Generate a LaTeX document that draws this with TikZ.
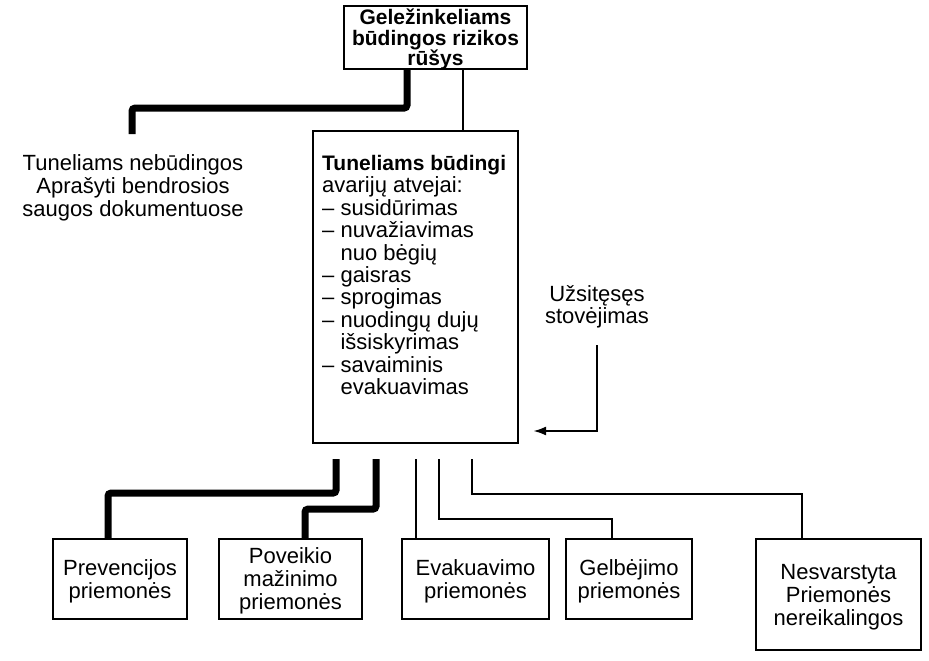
\documentclass[tikz,border=0pt]{standalone}
\usepackage{fontspec}
\setmainfont{Liberation Sans}
\usetikzlibrary{arrows.meta}
\tikzset{
  txt/.style={font=\fontsize{22}{23}\selectfont, align=center, inner sep=0pt},
  box/.style={txt, draw, line width=2.2pt, text depth=0pt},
  measure/.style={box, minimum height=80pt},
  heavy/.style={line width=7pt, rounded corners=3pt},
  light/.style={line width=2pt},
}
\begin{document}
\begin{tikzpicture}[x=1pt,y=-1pt,line join=miter]
  \useasboundingbox (0,0) rectangle (929,661);
  % risk kinds
  \node[box,font=\bfseries\fontsize{21}{20.5}\selectfont,minimum width=183pt,minimum height=63pt] (kinds) at (435.5,37.5) {Geležinkeliams\\būdingos rizikos\\rūšys};
  \node[txt] (notyp) at (133,188) {Tuneliams nebūdingos\\Aprašyti bendrosios\\saugos dokumentuose};
  \coordinate (notypend) at (132,134);
  \node[draw,line width=2.2pt,minimum width=205pt,minimum height=312pt] (cases) at (415.5,287) {};
  \node[txt,font=\fontsize{22}{22.4}\selectfont,align=left,anchor=north west] (caselist) at (322,155) {{\bfseries\fontsize{21}{22.4}\selectfont Tuneliams būdingi}\\
    avarijų atvejai:\\
    – susidūrimas\\
    – nuvažiavimas\\
    \phantom{– }nuo bėgių\\
    – gaisras\\
    – sprogimas\\
    – nuodingų dujų\\
    \phantom{– }išsiskyrimas\\
    – savaiminis\\
    \phantom{– }evakuavimas};
  \draw[heavy] ([xshift=-28.5pt]kinds.south) -- ++(0,38) -| (notypend);
  \draw[light] ([xshift=27.5pt]kinds.south) -- ([xshift=47.5pt]cases.north);
  % long stop
  \node[txt,font=\fontsize{22}{22}\selectfont] (stall) at (597,307) {Užsitęsęs\\stovėjimas};
  \coordinate (stalltip) at (533,431);
  \draw[line width=2.4pt,-{Latex[length=13pt,width=9pt]}] ([yshift=-17pt]stall.south) |- (stalltip);
  % measures
  \node[measure,minimum width=134pt] (prev) at (120,579) {Prevencijos\\priemonės};
  \node[measure,minimum width=143pt] (impact) at (290.5,579) {Poveikio\\mažinimo\\priemonės};
  \node[measure,minimum width=147pt] (evac) at (475.5,579) {Evakuavimo\\priemonės};
  \node[measure,minimum width=126pt] (rescue) at (629,579) {Gelbėjimo\\priemonės};
  \node[box,minimum width=165pt,minimum height=111pt] (nocons) at (838.5,594.5) {Nesvarstyta\\Priemonės\\nereikalingos};
  \draw[heavy] ([xshift=-79.5pt,yshift=-15pt]cases.south) -- ++(0,34) -| ([xshift=-12pt]prev.north);
  \draw[heavy] ([xshift=-39.5pt,yshift=-15pt]cases.south) -- ++(0,50) -| ([xshift=14.5pt]impact.north);
  \draw[light] ([xshift=0.5pt,yshift=-15pt]cases.south) -- ([xshift=-59.5pt]evac.north);
  \draw[light] ([xshift=23.5pt,yshift=-15pt]cases.south) -- ++(0,60) -| ([xshift=-17pt]rescue.north);
  \draw[light] ([xshift=56.5pt,yshift=-15pt]cases.south) -- ++(0,35) -| ([xshift=-36.5pt]nocons.north);
\end{tikzpicture}
\end{document}
